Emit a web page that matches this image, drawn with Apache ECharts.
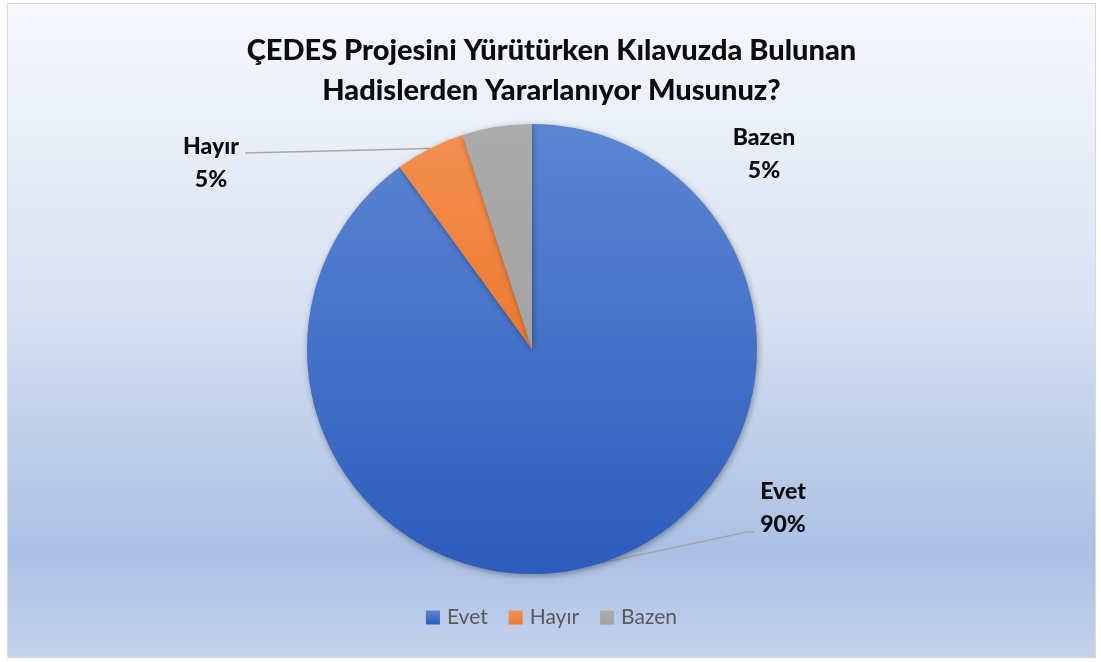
<!DOCTYPE html>
<html>
<head>
<meta charset="utf-8">
<script src="https://cdn.jsdelivr.net/npm/echarts@6/dist/echarts.min.js"></script>
<style>
  html, body { margin: 0; padding: 0; background: #ffffff; }
  #wrap { position: absolute; left: 7px; top: 3px; width: 1087px; height: 653px; border: 1px solid #d9d9d9; }
  #chart { width: 1087px; height: 653px; }
</style>
</head>
<body>
<div id="wrap"><div id="chart"></div></div>
<script>
const titleText = 'ÇEDES Projesini Yürütürken Kılavuzda Bulunan\nHadislerden Yararlanıyor Musunuz?';
const categories = ['Evet', 'Hayır', 'Bazen'];
const values = [90, 5, 5];
const percentLabels = ['90%', '5%', '5%'];

const sliceColors = [
  { top: '#5c86d4', bottom: '#2c5cbc' },
  { top: '#f28f52', bottom: '#ec7a2e' },
  { top: '#ababab', bottom: '#a3a3a3' }
];
// label placement (layout, chart coords) per slice
const labelPlacement = [
  { x: 775, y: 504, line: [[739, 528], [747, 528]] },
  { x: 203, y: 159, line: [[237, 149]] },
  { x: 756, y: 150, line: null }
];

const chart = echarts.init(document.getElementById('chart'));

const data = categories.map((name, i) => ({
  name: name,
  value: values[i],
  itemStyle: {
    color: new echarts.graphic.LinearGradient(0, 0, 0, 1, [
      { offset: 0, color: sliceColors[i].top },
      { offset: 1, color: sliceColors[i].bottom }
    ])
  },
  labelLine: { show: labelPlacement[i].line !== null }
}));

chart.setOption({
  backgroundColor: new echarts.graphic.LinearGradient(0, 0, 0, 1, [
    { offset: 0, color: '#f6f8fd' },
    { offset: 0.45, color: '#d9e2f2' },
    { offset: 0.84, color: '#aac0e4' },
    { offset: 1, color: '#c4d2ed' }
  ]),
  animation: false,
  title: {
    text: titleText,
    left: 'center',
    top: 22,
    textStyle: {
      fontFamily: 'Lato',
      fontWeight: 900,
      fontSize: 29,
      lineHeight: 40,
      color: '#0d0d0d'
    }
  },
  legend: {
    bottom: 24,
    left: 'center',
    icon: 'rect',
    itemWidth: 14,
    itemHeight: 14,
    itemGap: 21,
    textStyle: { fontFamily: 'Lato', fontSize: 21, color: '#595959', padding: [0, 0, 0, 2] },
    data: categories
  },
  series: [{
    type: 'pie',
    center: [524, 345],
    radius: 225,
    startAngle: 90,
    clockwise: true,
    avoidLabelOverlap: false,
    data: data,
    itemStyle: {
      borderWidth: 0,
      shadowBlur: 6,
      shadowColor: 'rgba(0,0,0,0.35)',
      shadowOffsetX: 1,
      shadowOffsetY: 2
    },
    emphasis: { disabled: true },
    label: {
      show: true,
      position: 'outside',
      formatter: p => p.name + '\n' + percentLabels[p.dataIndex],
      fontFamily: 'Lato',
      fontWeight: 900,
      fontSize: 23,
      lineHeight: 33,
      color: '#0d0d0d'
    },
    labelLine: {
      show: true,
      length: 10,
      length2: 10,
      lineStyle: { color: '#a6a6a6', width: 1.5 }
    },
    labelLayout: function (params) {
      const pl = labelPlacement[params.dataIndex];
      const res = { x: pl.x, y: pl.y, align: 'center', verticalAlign: 'middle' };
      if (pl.line && params.labelLinePoints) {
        const start = params.labelLinePoints[0];
        res.labelLinePoints = [start].concat(pl.line);
        if (res.labelLinePoints.length === 2) res.labelLinePoints.push(pl.line[0]);
      }
      return res;
    }
  }]
});
</script>
</body>
</html>
